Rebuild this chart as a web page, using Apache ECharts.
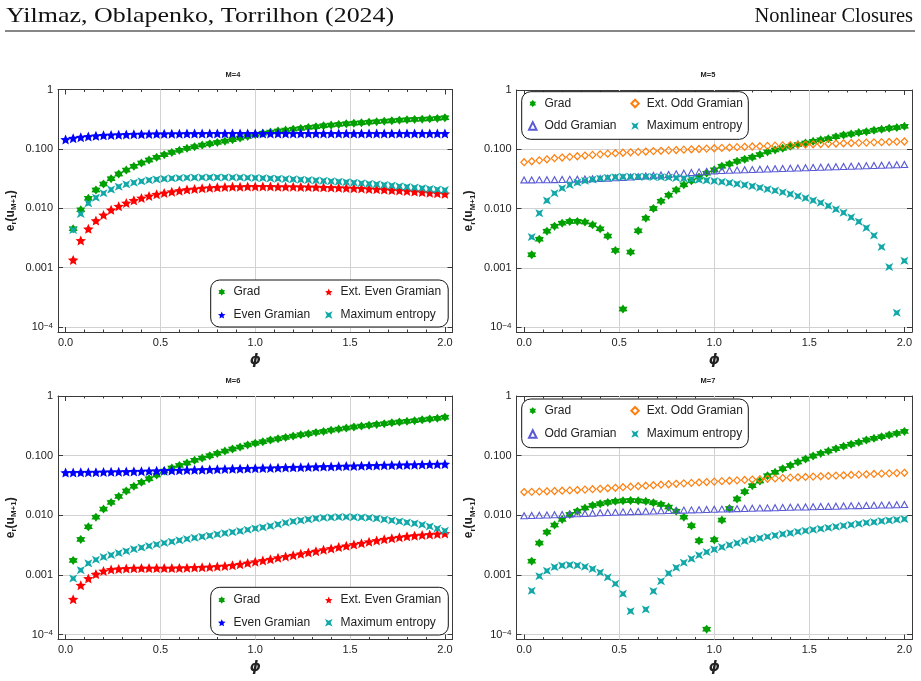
<!DOCTYPE html>
<html><head><meta charset="utf-8">
<script src="https://cdn.jsdelivr.net/npm/echarts@6/dist/echarts.min.js"></script>
<style>html,body{margin:0;padding:0;background:#fff}#c{width:921px;height:681px}</style>
</head><body><div id="c"></div>
<script>
// ---------- data ----------
const phi0 = [0.00,0.04,0.08,0.12,0.16,0.20,0.24,0.28,0.32,0.36,0.40,0.44,0.48,0.52,0.56,0.60,0.64,0.68,0.72,0.76,0.80,0.84,0.88,0.92,0.96,1.00,1.04,1.08,1.12,1.16,1.20,1.24,1.28,1.32,1.36,1.40,1.44,1.48,1.52,1.56,1.60,1.64,1.68,1.72,1.76,1.80,1.84,1.88,1.92,1.96,2.00];
const phi  = [0.04,0.08,0.12,0.16,0.20,0.24,0.28,0.32,0.36,0.40,0.44,0.48,0.52,0.56,0.60,0.64,0.68,0.72,0.76,0.80,0.84,0.88,0.92,0.96,1.00,1.04,1.08,1.12,1.16,1.20,1.24,1.28,1.32,1.36,1.40,1.44,1.48,1.52,1.56,1.60,1.64,1.68,1.72,1.76,1.80,1.84,1.88,1.92,1.96,2.00];

const panelTitles = ['M=4','M=5','M=6','M=7'];
const xTickLabels = ['0.0','0.5','1.0','1.5','2.0'];
const yTickLabels = {'0':'1','-1':'0.100','-2':'0.010','-3':'0.001','-4':'10{sup|−4}'};

// M=4
const gradM4 = [0.0045,0.0094,0.0147,0.0203,0.0256,0.0315,0.0378,0.0440,0.0508,0.0578,
  0.0650,0.0720,0.0798,0.0873,0.0944,0.1020,0.1090,0.1160,0.1220,0.1286,
  0.1350,0.1430,0.1520,0.1620,0.1740,0.1840,0.1920,0.2000,0.2070,0.2150,
  0.2210,0.2300,0.2360,0.2450,0.2520,0.2580,0.2650,0.2700,0.2750,0.2820,
  0.2870,0.2930,0.2980,0.3040,0.3090,0.3130,0.3170,0.3210,0.3260,0.3340];
const evenM4 = [0.144,
  0.151,0.157,0.162,0.166,0.169,0.171,0.173,0.175,0.176,0.177,
  0.178,0.179,0.179,0.180,0.180,0.181,0.181,0.181,0.182,0.182,
  0.182,0.182,0.182,0.182,0.182,0.182,0.182,0.182,0.182,0.182,
  0.182,0.182,0.182,0.182,0.182,0.182,0.182,0.182,0.182,0.182,
  0.182,0.182,0.182,0.182,0.182,0.182,0.182,0.182,0.182,0.182];
const extEvenM4 = [0.00135,0.00286,0.0045,0.0062,0.0077,0.0094,0.0108,0.0123,0.0136,0.0149,
  0.0161,0.0172,0.0181,0.0190,0.0198,0.0206,0.0211,0.0217,0.0222,0.0225,
  0.0228,0.0230,0.0231,0.0232,0.0232,0.0232,0.0232,0.0231,0.0231,0.0230,
  0.0229,0.0228,0.0227,0.0225,0.0224,0.0222,0.0220,0.0217,0.0215,0.0212,
  0.0209,0.0206,0.0202,0.0199,0.0195,0.0191,0.0187,0.0183,0.0179,0.0175];
const maxEntM4 = [0.0043,0.0080,0.0121,0.0151,0.0179,0.0206,0.0231,0.0253,0.0270,0.0284,
  0.0297,0.0306,0.0313,0.0319,0.0323,0.0326,0.0328,0.0330,0.0331,0.0331,
  0.0331,0.0330,0.0328,0.0326,0.0324,0.0321,0.0318,0.0315,0.0311,0.0307,
  0.0303,0.0299,0.0294,0.0290,0.0285,0.0280,0.0275,0.0270,0.0264,0.0258,
  0.0253,0.0247,0.0241,0.0235,0.0229,0.0223,0.0218,0.0212,0.0207,0.0202];
// M=5
const gradM5 = [0.00166,0.00304,0.00415,0.00503,0.00566,0.00604,0.00605,0.00590,0.00530,0.00454,
  0.00342,0.00196,0.000201,0.00184,0.00420,0.00687,0.0100,0.0133,0.0168,0.0206,
  0.0251,0.0293,0.0340,0.0395,0.0450,0.0516,0.0566,0.0628,0.0678,0.0733,
  0.0813,0.0902,0.0975,0.104,0.112,0.120,0.128,0.136,0.144,0.151,
  0.163,0.174,0.181,0.191,0.198,0.209,0.217,0.226,0.232,0.244];
const extOddM5 = [0.0604,
  0.0626,0.0650,0.0678,0.0706,0.0725,0.0745,0.0762,0.0783,0.0802,0.0821,
  0.0842,0.0858,0.0873,0.0888,0.0902,0.0916,0.0930,0.0943,0.0957,0.0970,
  0.0984,0.0998,0.1010,0.1025,0.1040,0.1055,0.1070,0.1085,0.1100,0.1113,
  0.1125,0.1138,0.1150,0.1162,0.1175,0.1188,0.1200,0.1212,0.1224,0.1236,
  0.1248,0.1260,0.1272,0.1284,0.1296,0.1307,0.1318,0.1329,0.1340,0.1352];
const oddM5 = [0.0304,
  0.0304,0.0305,0.0306,0.0307,0.0309,0.0311,0.0313,0.0316,0.0319,0.0322,
  0.0326,0.0330,0.0335,0.0340,0.0346,0.0353,0.0360,0.0368,0.0376,0.0385,
  0.0395,0.0405,0.0415,0.0424,0.0432,0.0437,0.0441,0.0445,0.0450,0.0454,
  0.0459,0.0464,0.0468,0.0473,0.0478,0.0483,0.0487,0.0492,0.0497,0.0502,
  0.0507,0.0512,0.0517,0.0522,0.0527,0.0532,0.0538,0.0543,0.0549,0.0555];
const maxEntM5 = [0.00329,0.00834,0.0136,0.0181,0.0220,0.0250,0.0274,0.0293,0.0308,0.0321,
  0.0330,0.0338,0.0342,0.0344,0.0344,0.0343,0.0341,0.0338,0.0334,0.0328,
  0.0321,0.0313,0.0305,0.0298,0.0291,0.0282,0.0271,0.0260,0.0250,0.0238,
  0.0225,0.0212,0.0201,0.0188,0.0175,0.0162,0.0150,0.0137,0.0125,0.0111,
  0.0097,0.0085,0.0071,0.0060,0.0047,0.0035,0.00224,0.00103,0.000174,0.00131];
// M=6
const gradM6 = [0.00175,0.00393,0.0064,0.0093,0.0127,0.0164,0.0207,0.0255,0.0305,0.0356,
  0.0410,0.0472,0.0551,0.0620,0.0686,0.0750,0.0833,0.0910,0.0996,0.109,
  0.119,0.129,0.139,0.151,0.161,0.171,0.183,0.192,0.202,0.213,
  0.224,0.233,0.245,0.255,0.267,0.279,0.290,0.302,0.313,0.323,
  0.334,0.344,0.356,0.366,0.376,0.386,0.399,0.411,0.422,0.440];
const evenM6 = [0.0520,
  0.0522,0.0524,0.0526,0.0528,0.0531,0.0534,0.0537,0.0540,0.0544,0.0548,
  0.0552,0.0556,0.0560,0.0565,0.0569,0.0573,0.0578,0.0582,0.0587,0.0592,
  0.0596,0.0600,0.0605,0.0609,0.0613,0.0618,0.0622,0.0627,0.0631,0.0636,
  0.0640,0.0645,0.0649,0.0654,0.0658,0.0663,0.0667,0.0671,0.0676,0.0680,
  0.0684,0.0689,0.0693,0.0697,0.0701,0.0705,0.0710,0.0714,0.0718,0.0722];
const extEvenM6 = [0.00039,0.00067,0.00087,0.00103,0.00116,0.00123,0.00126,0.00128,0.00129,0.00130,
  0.00130,0.00130,0.00130,0.00130,0.00131,0.00132,0.00133,0.00134,0.00136,0.00138,
  0.00141,0.00145,0.00151,0.00158,0.00166,0.00174,0.00183,0.00194,0.00204,0.00214,
  0.00225,0.00238,0.00250,0.00264,0.00277,0.00292,0.00307,0.00324,0.00340,0.00359,
  0.00377,0.00396,0.00412,0.00428,0.00443,0.00455,0.00466,0.00476,0.00485,0.00494];
const maxEntM6 = [0.00087,0.00120,0.00156,0.00179,0.00199,0.00215,0.00232,0.00250,0.00270,0.00287,
  0.00305,0.00323,0.00342,0.00361,0.00380,0.00399,0.00418,0.00437,0.00455,0.00478,
  0.00500,0.00520,0.00542,0.00571,0.00601,0.00625,0.00658,0.00702,0.00748,0.00788,
  0.00819,0.00851,0.00885,0.00908,0.00920,0.00932,0.00935,0.00930,0.00920,0.00908,
  0.00885,0.00851,0.00819,0.00788,0.00758,0.00730,0.00693,0.00650,0.00600,0.00550];
// M=7
const gradM7 = [0.00170,0.00341,0.00521,0.00684,0.00850,0.0103,0.0117,0.0132,0.0146,0.0156,
  0.0164,0.0171,0.0175,0.0177,0.0175,0.0171,0.0162,0.0152,0.0137,0.0117,
  0.0093,0.00667,0.00373,0.000123,0.00388,0.0083,0.0130,0.0187,0.0248,0.0313,
  0.0374,0.0460,0.0524,0.0603,0.0686,0.0780,0.0877,0.0984,0.109,0.119,
  0.131,0.143,0.155,0.167,0.183,0.195,0.208,0.222,0.236,0.255];
const extOddM7 = [0.0245,
  0.0247,0.0249,0.0252,0.0255,0.0258,0.0261,0.0265,0.0269,0.0273,0.0278,
  0.0283,0.0289,0.0295,0.0301,0.0307,0.0313,0.0319,0.0325,0.0331,0.0337,
  0.0343,0.0349,0.0355,0.0361,0.0367,0.0373,0.0379,0.0385,0.0391,0.0397,
  0.0403,0.0409,0.0415,0.0421,0.0427,0.0433,0.0439,0.0445,0.0450,0.0456,
  0.0462,0.0468,0.0474,0.0480,0.0486,0.0492,0.0498,0.0504,0.0510,0.0516];
const oddM7 = [0.0098,
  0.0099,0.0100,0.0101,0.0102,0.0103,0.0104,0.0106,0.0107,0.0108,0.0110,
  0.0111,0.0112,0.0114,0.0115,0.0116,0.0117,0.0118,0.0119,0.0120,0.0121,
  0.0122,0.0123,0.0124,0.0125,0.0126,0.0127,0.0128,0.0129,0.0130,0.0131,
  0.0132,0.0133,0.0134,0.0135,0.0136,0.0137,0.0138,0.0139,0.0140,0.0141,
  0.0142,0.0143,0.0144,0.0145,0.0146,0.0147,0.0148,0.0149,0.0150,0.0152];
const maxEntM7 = [0.00054,0.00095,0.00117,0.00135,0.00144,0.00147,0.00144,0.00137,0.00126,0.00110,
  0.00091,0.00071,0.00048,0.000246,null,0.000263,0.000533,0.000785,0.00106,0.00132,
  0.00160,0.00186,0.00214,0.00241,0.00267,0.00292,0.00316,0.00341,0.00369,0.00393,
  0.00414,0.00436,0.00459,0.00483,0.00502,0.00529,0.00550,0.00571,0.00593,0.00617,
  0.00641,0.00667,0.00693,0.00720,0.00748,0.00768,0.00798,0.00819,0.00840,0.00863];

// ---------- styles ----------
function starPath(n, ratio, rot) {
  let d = '';
  for (let i = 0; i < 2 * n; i++) {
    const r = (i % 2 === 0) ? 50 : 50 * ratio;
    const a = rot + Math.PI * i / n;
    const px = (50 + r * Math.sin(a)).toFixed(2), py = (50 - r * Math.cos(a)).toFixed(2);
    d += (i === 0 ? 'M' : 'L') + px + ',' + py;
  }
  return 'path://' + d + 'Z';
}
const FONT = 'Liberation Sans';
const ST = {
  grad:    {symbol: starPath(6, 0.62, 0), symbolSize: 9, itemStyle: {color: '#00a000', opacity: 1}},
  even:    {symbol: starPath(5, 0.46, 0), symbolSize: [10.5, 10], itemStyle: {color: '#0000ff', opacity: 1}},
  extEven: {symbol: starPath(5, 0.46, 0), symbolSize: [10.5, 10], itemStyle: {color: '#ff0000', opacity: 1}},
  maxEnt:  {symbol: 'path://M0,0L50,24L100,0L76,50L100,100L50,76L0,100L24,50Z', symbolSize: 8, itemStyle: {color: '#12a8a8', opacity: 1}},
  extOdd:  {symbol: 'diamond', symbolSize: [6.5, 7], itemStyle: {color: 'rgba(255,255,255,0)', borderColor: '#ff7f0e', borderWidth: 1.2, opacity: 1}},
  odd:     {symbol: 'triangle', symbolSize: [6.5, 6], itemStyle: {color: 'rgba(255,255,255,0)', borderColor: '#5a5ad6', borderWidth: 1.1, opacity: 1}}
};

const grids = [
  {left: 58, top: 89.5, width: 394.5, height: 242.5},
  {left: 516.5, top: 90, width: 395.5, height: 242},
  {left: 58, top: 396, width: 394.5, height: 243.5},
  {left: 516.5, top: 396, width: 395.5, height: 243.5}
];
const titlePos = [[233, 75], [708, 75], [233, 381], [708, 381]];
const YMIN = Math.pow(10, -4.084);
const AX = '#3a3a3a';

const panels = [
  [['Grad', gradM4, phi, 'grad'], ['Even Gramian', evenM4, phi0, 'even'], ['Ext. Even Gramian', extEvenM4, phi, 'extEven'], ['Maximum entropy', maxEntM4, phi, 'maxEnt']],
  [['Grad', gradM5, phi, 'grad'], ['Ext. Odd Gramian', extOddM5, phi0, 'extOdd'], ['Odd Gramian', oddM5, phi0, 'odd'], ['Maximum entropy', maxEntM5, phi, 'maxEnt']],
  [['Grad', gradM6, phi, 'grad'], ['Even Gramian', evenM6, phi0, 'even'], ['Ext. Even Gramian', extEvenM6, phi, 'extEven'], ['Maximum entropy', maxEntM6, phi, 'maxEnt']],
  [['Grad', gradM7, phi, 'grad'], ['Ext. Odd Gramian', extOddM7, phi0, 'extOdd'], ['Odd Gramian', oddM7, phi0, 'odd'], ['Maximum entropy', maxEntM7, phi, 'maxEnt']]
];
const legendCols = [
  [['Grad', 'Even Gramian'], ['Ext. Even Gramian', 'Maximum entropy']],
  [['Grad', 'Odd Gramian'], ['Ext. Odd Gramian', 'Maximum entropy']],
  [['Grad', 'Even Gramian'], ['Ext. Even Gramian', 'Maximum entropy']],
  [['Grad', 'Odd Gramian'], ['Ext. Odd Gramian', 'Maximum entropy']]
];
// legend layout: [col1 left, col2 left, top, itemGap, box x, box y, box w, box h]
const legendPos = [
  [218, 325, 285, 9, 210.7, 280, 237.5, 47],
  [528, 630.3, 96.5, 8.4, 521.7, 91.7, 226.6, 47.6],
  [218, 325, 593, 8.7, 210.7, 587.3, 237.6, 47.7],
  [528, 630.3, 403.7, 9.3, 521.7, 399, 226.6, 48.7]
];

const xAxis = [], yAxis = [], series = [], legend = [], graphic = [];
const tickStyle = {show: true, inside: true, length: 5, lineStyle: {color: AX, width: 1}};
const minorStyle = {show: true, splitNumber: 5, length: 2.5, lineStyle: {color: AX, width: 1}};

panels.forEach((p, gi) => {
  xAxis.push({
    gridIndex: gi, type: 'value', min: -0.04, max: 2.04, position: 'bottom',
    axisLine: {show: true, onZero: false, lineStyle: {color: AX, width: 1}},
    axisTick: tickStyle, minorTick: minorStyle, splitLine: {show: false},
    axisLabel: {fontSize: 11, color: '#222', margin: 5, fontFamily: FONT,
      formatter: v => { const k = Math.round(v * 2); return (Math.abs(v * 2 - k) < 1e-6 && k >= 0 && k <= 4) ? xTickLabels[k] : ''; }},
    name: 'ϕ', nameLocation: 'middle', nameGap: 21,
    nameTextStyle: {fontSize: 14, fontWeight: 'bold', fontStyle: 'italic', color: '#222', fontFamily: 'DejaVu Sans'}
  });
  xAxis.push({
    gridIndex: gi, type: 'value', min: -0.04, max: 2.04, position: 'top',
    axisLine: {show: true, onZero: false, lineStyle: {color: AX, width: 1}},
    axisTick: tickStyle, minorTick: minorStyle, splitLine: {show: false}, axisLabel: {show: false}
  });
  yAxis.push({
    gridIndex: gi, type: 'log', logBase: 10, min: YMIN, max: 1, position: 'left',
    axisLine: {show: true, onZero: false, lineStyle: {color: AX, width: 1}},
    axisTick: tickStyle,
    splitLine: {show: true, lineStyle: {color: '#d2d2d2', width: 1}},
    axisLabel: {fontSize: 11, color: '#222', margin: 5, fontFamily: FONT,
      formatter: v => { const L = Math.log10(v); const k = Math.round(L); return (Math.abs(L - k) < 0.01 && yTickLabels[String(k)] !== undefined) ? yTickLabels[String(k)] : ''; },
      rich: {sup: {fontSize: 8, verticalAlign: 'top', lineHeight: 8, color: '#222', fontFamily: FONT, padding: [0, 0, 6, 0]}}},
    name: '{b|e}{s|r}{b|(u}{s|M+1}{b|)}', nameLocation: 'middle', nameGap: 40, nameRotate: 90,
    nameTextStyle: {rich: {
      b: {fontSize: 12, fontWeight: 'bold', color: '#222', fontFamily: FONT},
      s: {fontSize: 8, fontWeight: 'bold', color: '#222', fontFamily: FONT, padding: [7, 0, 0, 0]}
    }}
  });
  yAxis.push({
    gridIndex: gi, type: 'log', logBase: 10, min: YMIN, max: 1, position: 'right',
    axisLine: {show: true, onZero: false, lineStyle: {color: AX, width: 1}},
    axisTick: tickStyle, splitLine: {show: false}, axisLabel: {show: false}
  });
  p.forEach((s, si) => {
    const [name, vals, xs, key] = s;
    const data = [];
    xs.forEach((x, i) => { if (vals[i] !== null && vals[i] !== undefined) data.push([x, vals[i]]); });
    const ser = Object.assign({
      type: 'scatter', name, data, xAxisIndex: gi * 2, yAxisIndex: gi * 2, z: 3,
      emphasis: {disabled: true}, animation: false
    }, JSON.parse(JSON.stringify(ST[key])));
    if (si === 0) {
      ser.markLine = {silent: true, z: 1, symbol: ['none', 'none'], label: {show: false}, animation: false,
        emphasis: {disabled: true},
        lineStyle: {color: '#d2d2d2', type: 'solid', width: 1},
        data: [{xAxis: 0.5}, {xAxis: 1.0}, {xAxis: 1.5}]};
    }
    series.push(ser);
  });
  const lp = legendPos[gi];
  const lcommon = {orient: 'vertical', top: lp[2], itemWidth: 7.5, itemHeight: 7.5, itemGap: lp[3], padding: 0,
    selectedMode: false, z: 6, textStyle: {fontSize: 12, color: '#222', fontFamily: FONT, lineHeight: 14, padding: [0, 0, 0, 3]}};
  legend.push(Object.assign({left: lp[0], data: legendCols[gi][0]}, lcommon));
  legend.push(Object.assign({left: lp[1], data: legendCols[gi][1]}, lcommon));
  graphic.push({type: 'rect', z: 5, silent: true, shape: {x: lp[4], y: lp[5], width: lp[6], height: lp[7], r: 9},
    style: {fill: '#fff', stroke: '#111', lineWidth: 1}});
  graphic.push({type: 'text', z: 5, x: titlePos[gi][0], y: titlePos[gi][1],
    style: {text: panelTitles[gi], fontSize: 7.5, fontWeight: 'bold', fontFamily: FONT, fill: '#222', align: 'center', verticalAlign: 'middle'}});
});

graphic.push({type: 'text', x: 6, y: 16, scaleX: 1.18,
  style: {text: 'Yilmaz, Oblapenko, Torrilhon (2024)', fontSize: 22, fontFamily: 'Liberation Serif', fill: '#111', align: 'left', verticalAlign: 'middle'}});
graphic.push({type: 'text', x: 913, y: 16, scaleX: 0.93,
  style: {text: 'Nonlinear Closures', fontSize: 22, fontFamily: 'Liberation Serif', fill: '#111', align: 'right', verticalAlign: 'middle'}});
graphic.push({type: 'line', shape: {x1: 5, y1: 31, x2: 915, y2: 31}, style: {stroke: '#111', lineWidth: 1.2}});

const chart = echarts.init(document.getElementById('c'), null, {renderer: 'canvas'});
chart.setOption({
  animation: false,
  backgroundColor: '#fff',
  textStyle: {fontFamily: FONT},
  grid: grids,
  xAxis, yAxis, series, legend, graphic
});
</script></body></html>
